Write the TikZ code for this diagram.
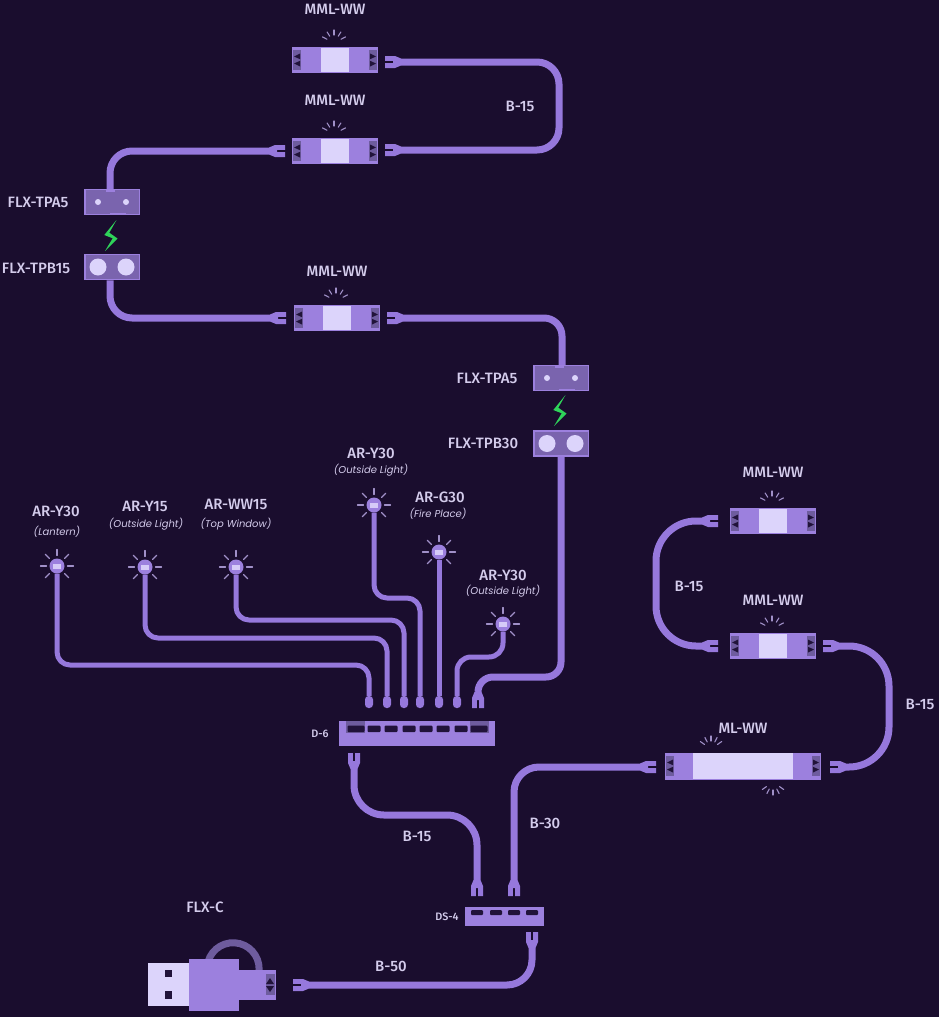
\documentclass[tikz,border=0pt]{standalone}
\usepackage{fontspec}
\setmainfont{Fira Sans}[BoldFont={Fira Sans Medium}]
\newfontfamily\subf{Poppins}
\definecolor{bgc}{HTML}{1A0D2E}
\definecolor{cablec}{HTML}{9678DC}
\definecolor{bodyc}{HTML}{9C80DE}
\definecolor{whitec}{HTML}{DCD4FB}
\definecolor{tabc}{HTML}{6E5C9E}
\definecolor{tpc}{HTML}{7A64AE}
\definecolor{rayc}{HTML}{A090C8}
\definecolor{labc}{HTML}{D4CCEC}
\definecolor{boltc}{HTML}{2FD35A}
\definecolor{slotc}{HTML}{21133A}
\tikzset{
  cable/.style={draw=cablec,line width=7pt,line join=round},
  wire/.style={draw=cablec,line width=5pt,line join=round},
  lab/.style={text=labc,font=\fontsize{15}{17}\selectfont\bfseries,inner sep=0pt},
  sublab/.style={text=labc,font=\fontsize{10}{12}\subf\itshape,inner sep=0pt},
  tiny/.style={text=labc,font=\fontsize{10.8}{12}\selectfont\bfseries,inner sep=0pt},
  body/.style={fill=bodyc,draw=none,inner sep=0pt,rectangle},
  tpbox/.style={fill=tpc,draw=bodyc,line width=1.5pt,inner sep=0pt,rectangle,minimum width=54.5pt,minimum height=25pt},
  rayl/.style={draw=rayc,line width=1.1pt,line cap=round},
}
% tab with two triangles; #3 = 1 points right, -1 points left
\newcommand{\tabm}[3]{%
  \fill[tabc] (#1-4,#2-10) rectangle (#1+4,#2+10);
  \fill[slotc] (#1-#3*3,#2-6.5) -- (#1+#3*3,#2-3.5) -- (#1-#3*3,#2-0.8) -- cycle;
  \fill[slotc] (#1-#3*3,#2+0.8) -- (#1+#3*3,#2+3.5) -- (#1-#3*3,#2+6.5) -- cycle;
}
\newcommand{\rays}[3]{% centre x,y, angles
  \foreach \a in {#3} {\draw[rayl] ({#1+8*cos(\a)},{#2-8*sin(\a)}) -- ({#1+13*cos(\a)},{#2-13*sin(\a)});}
}
% name, cx, cy
\newcommand{\mml}[3]{%
  \node[body,minimum width=86pt,minimum height=26pt] (#1) at (#2,#3) {};
  \fill[whitec] (#2-14,#3-12) rectangle (#2+14,#3+12);
  \tabm{#2-38}{#3}{-1}
  \tabm{#2+38}{#3}{1}
  \rays{#2-1}{#3-17}{90,58,122,28,152}
}
% name, x, y, rotation : fork opening in direction of rotation, stem at (x,y)
\newcommand{\plugm}[4]{%
  \coordinate (#1) at (#2,#3);
  \begin{scope}[shift={(#2,#3)},rotate=#4]
  \fill[cablec] (0,-3.5) -- (6,-6) -- (16,-6) -- (16,-1.2) -- (8,-1.2) -- (8,1.2) -- (16,1.2) -- (16,6) -- (6,6) -- (0,3.5) -- cycle;
  \end{scope}
}
% name, cx, cy
\newcommand{\lightm}[3]{%
  \node[circle,fill=bodyc,minimum size=15pt,inner sep=0pt] (#1) at (#2,#3) {};
  \fill[whitec!90!bodyc] (#2-4,#3-2.5) rectangle (#2+4,#3+2.5);
  \foreach \a in {0,45,...,315} {\draw[rayl] ({#2+10.5*cos(\a)},{#3-10.5*sin(\a)}) -- ({#2+16.5*cos(\a)},{#3-16.5*sin(\a)});}
}
\newcommand{\boltm}[2]{%
  \fill[boltc] (#1+5.5,#2-17) -- (#1-6.7,#2-2) -- (#1+1.7,#2+1.3) -- (#1-6,#2+14) -- (#1+6.5,#2+1.5) -- (#1-1.7,#2-4.3) -- cycle;
}
\newcommand{\tpam}[3]{%
  \node[tpbox] (#1) at (#2,#3) {};
  \fill[whitec] (#2-14,#3) circle (3);
  \fill[whitec] (#2+14,#3) circle (3);
  \fill[bodyc] (#2-2,#3+11) rectangle (#2+14,#3+13);
  \fill[bodyc] (#2-6,#3-13) rectangle (#2+3,#3-10);
}
\newcommand{\tpbm}[3]{%
  \node[tpbox] (#1) at (#2,#3) {};
  \fill[whitec] (#2-14,#3) circle (8.5);
  \fill[whitec] (#2+14,#3) circle (8.5);
}
\begin{document}
\begin{tikzpicture}[x=1pt,y=-1pt]
\fill[bgc] (0,0) rectangle (939,1017);
\useasboundingbox (0,0) rectangle (939,1017);

% connector ends
\plugm{a1r}{401}{62}{180}
\plugm{a2l}{269}{151}{0}
\plugm{a2r}{401}{150}{180}
\plugm{a3l}{270}{318}{0}
\plugm{a3r}{403}{318}{180}
\plugm{b1l}{702}{521}{0}
\plugm{b2l}{702}{646}{0}
\plugm{b2r}{839}{646}{180}
\plugm{mll}{640}{767}{0}
\plugm{mlr}{846}{767}{180}
\plugm{d6pow}{478}{692}{-90}
\plugm{d6out}{354}{769}{90}
\plugm{ds1}{477}{880}{-90}
\plugm{ds2}{514}{880}{-90}
\plugm{ds3}{532}{948}{90}
\plugm{usbp}{309}{985}{180}

% devices
\mml{m1}{335}{60}
\mml{m2}{335}{151}
\mml{m3}{337}{318}
\mml{m4}{773}{521}
\mml{m5}{773}{646}

\tpam{tpa1}{112}{202}
\tpbm{tpb1}{112}{267}
\boltm{111}{237}
\tpam{tpa2}{561}{378}
\tpbm{tpb2}{561}{443.5}
\boltm{560}{412}

% ML
\node[body,minimum width=156pt,minimum height=27pt] (ml) at (743,766) {};
\fill[whitec] (693,753) rectangle (793,779);
\tabm{670}{766}{-1}
\tabm{816}{766}{1}
\foreach \a in {90,62,118,35,145} {\draw[rayl] ({711+8*cos(\a)},{749-8*sin(\a)}) -- ({711+13*cos(\a)},{749-13*sin(\a)});}
\foreach \a in {90,62,118,35,145} {\draw[rayl] ({773+8*cos(\a)},{782+8*sin(\a)}) -- ({773+13*cos(\a)},{782+13*sin(\a)});}

% D-6
\node[body,minimum width=156pt,minimum height=25pt] (d6) at (417,733.5) {};
\fill[tabc] (346,721) rectangle (365,733);
\fill[tabc] (470,721) rectangle (489,733);
\foreach \x/\w in {356/8.5,374/6.5,391/6.5,409/6.5,426/6.5,443/6.5,461/6.5,479/8.5} {\fill[slotc,rounded corners=1pt] (\x-\w,725.5) rectangle (\x+\w,732);}

% DS-4
\node[body,minimum width=79pt,minimum height=19pt] (ds4) at (504.5,916.5) {};
\foreach \x in {477,496,514,532} {\fill[slotc,rounded corners=1pt] (\x-6,910) rectangle (\x+6,915);}

% USB
\draw[tabc,line width=7pt] (208,962) arc[start angle=195,end angle=372,radius=26];
\node[rectangle,fill=whitec,minimum width=41pt,minimum height=43pt,inner sep=0pt] (usbh) at (168.5,984.5) {};
\fill[slotc] (165,970) rectangle (172,977);
\fill[slotc] (165,991) rectangle (172,999);
\node[body,minimum width=50pt,minimum height=52pt] (usb) at (214,985) {};
\node[body,minimum width=37pt,minimum height=30pt] (usbt) at (257,985) {};
\fill[tabc] (266,974) rectangle (275,995);
\fill[slotc] (270,978) -- (274,984) -- (266,984) -- cycle;
\fill[slotc] (270,992) -- (274,986) -- (266,986) -- cycle;

% lights
\lightm{l1}{57}{566}
\lightm{l2}{145}{567}
\lightm{l3}{236}{567}
\lightm{l4}{374}{505}
\lightm{l5}{439}{552}
\lightm{l6}{503}{624}

% wire ends on D-6
\foreach \n/\x in {e1/369,e2/387,e3/404,e4/420,e5/439,e6/457} {
  \node[rectangle,rounded corners=3.5pt,fill=cablec,minimum width=8pt,minimum height=12pt,inner sep=0pt] (\n) at (\x,702) {};
}

% cables
\draw[cable,rounded corners=22pt] (a1r) -- (559,62) -- (559,150) -- (a2r);
\draw[cable,rounded corners=22pt] (a2l) -- (110,151) -- (tpa1.north -| 110,0);
\draw[cable,rounded corners=22pt] (tpb1.south -| 110,0) -- (110,318) -- (a3l);
\draw[cable,rounded corners=18pt] (a3r) -- (562,318) -- (tpa2.north -| 562,0);
\draw[cable,rounded corners=15pt] (tpb2.south) -- (561,677) -- (478,677) -- (d6pow);
\draw[cable,rounded corners=40pt] (b1l) -- (656,521) -- (656,646) -- (b2l);
\draw[cable,rounded corners=40pt] (b2r) -- (889,646) -- (889,767) -- (mlr);
\draw[cable,rounded corners=30pt] (d6out) -- (354,815) -- (477,815) -- (ds1);
\draw[cable,rounded corners=25pt] (ds2) -- (514,767) -- (mll);
\draw[cable,rounded corners=25pt] (ds3) -- (532,985) -- (usbp);

\draw[wire,rounded corners=13pt] (l1.south) -- (57,665) -- (369,665) -- (e1);
\draw[wire,rounded corners=13pt] (l2.south) -- (145,638) -- (387,638) -- (e2);
\draw[wire,rounded corners=13pt] (l3.south) -- (236,620) -- (404,620) -- (e3);
\draw[wire,rounded corners=13pt] (l4.south) -- (374,598) -- (420,598) -- (e4);
\draw[wire] (l5.south) -- (e5);
\draw[wire,rounded corners=14pt] (l6.south) -- (503,657) -- (457,657) -- (e6);

% labels
\node[lab] (t1) at (335,9) {MML-WW};
\node[lab] (t2) at (335,100) {MML-WW};
\node[lab] (t3) at (337,271) {MML-WW};
\node[lab] (t4) at (773,472) {MML-WW};
\node[lab] (t5) at (773,600) {MML-WW};
\node[lab] (t6) at (743,728) {ML-WW};
\node[lab] (t7) at (38,202) {FLX-TPA5};
\node[lab] (t8) at (36,268) {FLX-TPB15};
\node[lab] (t9) at (487,378) {FLX-TPA5};
\node[lab] (t10) at (483,443) {FLX-TPB30};
\node[lab] (t11) at (205,907) {FLX-C};
\node[lab] (c1) at (520,106) {B-15};
\node[lab] (c2) at (689,586) {B-15};
\node[lab] (c3) at (920,704) {B-15};
\node[lab] (c4) at (417,836) {B-15};
\node[lab] (c5) at (545,823) {B-30};
\node[lab] (c6) at (391,966) {B-50};
\node[tiny] (d1) at (320,734) {D-6};
\node[tiny] (d2) at (447,917) {DS-4};
\node[lab] (n1) at (56,511) {AR-Y30};
\node[sublab] (s1) at (57,532) {(Lantern)};
\node[lab] (n2) at (145,506) {AR-Y15};
\node[sublab] (s2) at (146,524) {(Outside Light)};
\node[lab] (n3) at (236,504) {AR-WW15};
\node[sublab] (s3) at (236,524) {(Top Window)};
\node[lab] (n4) at (371,453) {AR-Y30};
\node[sublab] (s4) at (371,470) {(Outside Light)};
\node[lab] (n5) at (440,497) {AR-G30};
\node[sublab] (s5) at (438,514) {(Fire Place)};
\node[lab] (n6) at (503,575) {AR-Y30};
\node[sublab] (s6) at (503,591) {(Outside Light)};
\end{tikzpicture}
\end{document}
